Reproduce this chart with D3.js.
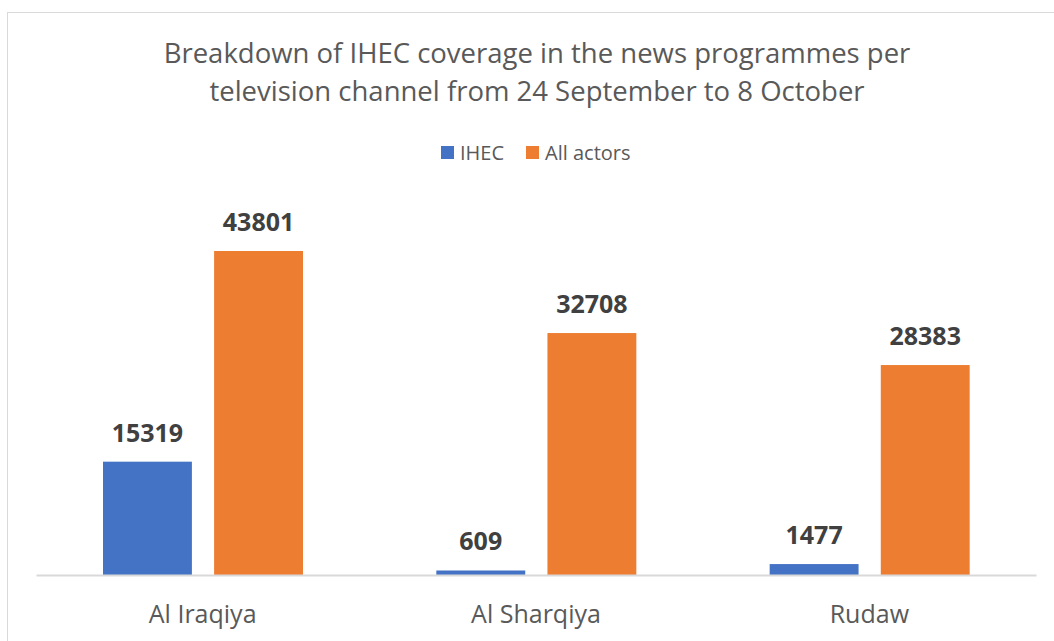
<!DOCTYPE html>
<html>
<head>
<meta charset="utf-8">
<script src="https://cdn.jsdelivr.net/npm/d3@7"></script>
<style>
  body { margin: 0; background: #fff; }
  text { font-family: 'Open Sans', sans-serif; }
</style>
</head>
<body>
<svg id="chart" width="1054" height="641"></svg>
<script>
const channels = ["Al Iraqiya", "Al Sharqiya", "Rudaw"]
const seriesNames = ["IHEC", "All actors"]
const ihec = [15319, 609, 1477]
const allActors = [43801, 32708, 28383]
const titleLines = ["Breakdown of IHEC coverage in the news programmes per", "television channel from 24 September to 8 October"]

const color = d3.scaleOrdinal().domain(seriesNames).range(["#4472C4", "#ED7D31"])

const margin = { top: 200, right: 18, bottom: 66, left: 36 }
const width = 1054, height = 641
const innerWidth = width - margin.left - margin.right
const innerHeight = height - margin.top - margin.bottom

const svg = d3.select("#chart")

// chart border
svg.append("rect")
  .attr("x", 7.5).attr("y", 12.5)
  .attr("width", 1080).attr("height", 700)
  .attr("fill", "none")
  .attr("stroke", "#d9d9d9")

// title
svg.append("g")
  .selectAll("text")
  .data(titleLines)
  .join("text")
  .attr("x", 537)
  .attr("y", (d, i) => 63 + i * 38)
  .attr("text-anchor", "middle")
  .attr("fill", "#595959")
  .style("font-size", "27.5px")
  .text(d => d)

const g = svg.append("g").attr("transform", `translate(${margin.left},${margin.top})`)

const x0 = d3.scaleBand().domain(channels).range([0, innerWidth])
const x1 = d3.scaleBand().domain(seriesNames).range([67, 267]).paddingInner(0.2)

const y = d3.scaleLinear().domain([0, 50000]).range([innerHeight, innerHeight - 50000 * 324 / 43801])

const rows = channels.map((c, i) => ({ channel: c, values: [
  { key: "IHEC", value: ihec[i] },
  { key: "All actors", value: allActors[i] }
]}))

const groups = g.selectAll(".group")
  .data(rows)
  .join("g")
  .attr("class", "group")
  .attr("transform", d => `translate(${x0(d.channel)},0)`)

groups.selectAll("rect")
  .data(d => d.values)
  .join("rect")
  .attr("x", d => x1(d.key))
  .attr("y", d => y(d.value))
  .attr("width", x1.bandwidth())
  .attr("height", d => innerHeight - y(d.value))
  .attr("fill", d => color(d.key))

groups.selectAll(".label")
  .data(d => d.values)
  .join("text")
  .attr("class", "label")
  .attr("x", d => x1(d.key) + x1.bandwidth() / 2)
  .attr("y", d => y(d.value) - 20)
  .attr("text-anchor", "middle")
  .attr("fill", "#404040")
  .style("font-size", "25px")
  .style("font-weight", "bold")
  .text(d => d.value)

// x axis
const xAxis = g.append("g")
  .attr("transform", `translate(0,${innerHeight})`)
  .call(d3.axisBottom(x0).tickSize(0).tickPadding(30))
xAxis.select(".domain").attr("stroke", "#d9d9d9").attr("stroke-width", 2)
xAxis.selectAll("text")
  .attr("fill", "#595959")
  .style("font-size", "25px")
  .style("font-family", "'Open Sans', sans-serif")

// legend
const legendItems = [{ name: "IHEC", x: 441 }, { name: "All actors", x: 526 }]
const legend = svg.append("g")
legend.selectAll("rect")
  .data(legendItems)
  .join("rect")
  .attr("x", d => d.x)
  .attr("y", 146)
  .attr("width", 13).attr("height", 13)
  .attr("fill", d => color(d.name))
legend.selectAll("text")
  .data(legendItems)
  .join("text")
  .attr("x", d => d.x + 19)
  .attr("y", 160)
  .attr("fill", "#595959")
  .style("font-size", "20px")
  .text(d => d.name)
</script>
</body>
</html>
